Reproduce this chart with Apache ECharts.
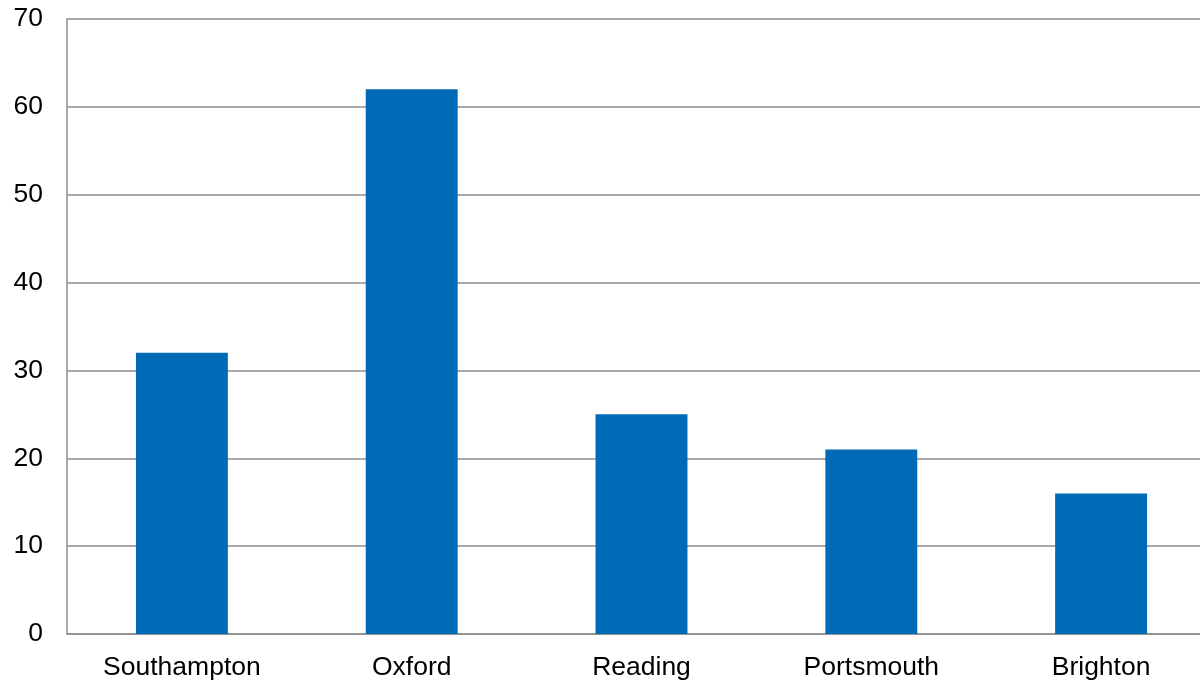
<!DOCTYPE html>
<html>
<head>
<meta charset="utf-8">
<script src="https://cdn.jsdelivr.net/npm/echarts@6/dist/echarts.min.js"></script>
<style>
  html, body { margin: 0; padding: 0; background: #fff; }
  #chart { width: 1200px; height: 680px; }
</style>
</head>
<body>
<div id="chart"></div>
<script>
// Towns along the x axis
const towns = ['Southampton', 'Oxford', 'Reading', 'Portsmouth', 'Brighton'];
// Bar heights, one per town
const values = [32, 62, 25, 21, 16];
// Value axis range and step
const yMin = 0;
const yMax = 70;
const yStep = 10;

const chart = echarts.init(document.getElementById('chart'), null, { renderer: 'canvas' });

chart.setOption({
  animation: false,
  backgroundColor: '#ffffff',
  grid: {
    left: 67,
    top: 19,
    width: 1149,
    height: 615,
    containLabel: false,
    outerBoundsMode: 'none'
  },
  xAxis: {
    type: 'category',
    data: towns,
    axisLine: { show: true, lineStyle: { color: '#8c8c8c', width: 1.5 } },
    axisTick: { show: false },
    axisLabel: {
      color: '#000',
      fontFamily: 'Liberation Sans, Arial, sans-serif',
      fontSize: 26.5,
      margin: 20
    }
  },
  yAxis: {
    type: 'value',
    min: yMin,
    max: yMax,
    interval: yStep,
    axisLine: { show: true, lineStyle: { color: '#8c8c8c', width: 1.5 } },
    axisTick: { show: false },
    axisLabel: {
      color: '#000',
      fontFamily: 'Liberation Sans, Arial, sans-serif',
      fontSize: 26.5,
      margin: 24
    },
    splitLine: { show: true, lineStyle: { color: '#8c8c8c', width: 1.5 } }
  },
  series: [{
    type: 'bar',
    data: values,
    barWidth: '40%',
    itemStyle: { color: '#006ab6' }
  }]
});
</script>
</body>
</html>
